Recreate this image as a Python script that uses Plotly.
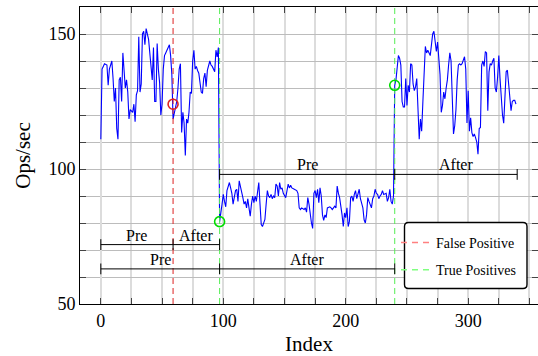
import plotly.graph_objects as go

# ---------------- data ----------------
index = [
    0, 1, 2, 3, 5, 6, 7, 9, 10, 11, 12, 13, 14, 15, 16, 17, 18, 19, 20, 21, 22, 23, 24, 26, 27, 28, 29, 30,
    31, 32, 33, 34, 35, 36, 37, 39, 40, 42, 43, 44, 45, 46, 47, 48, 49, 50, 51, 52, 53, 55, 56, 57, 58, 59,
    60, 62, 63, 64, 65, 66, 67, 68, 69, 70, 71, 72, 73, 74, 75, 76, 77, 78, 79, 80, 82, 83, 84, 85, 86, 87,
    89, 90, 91, 93, 94, 95, 96,
    97, 99, 100, 101, 102, 103, 105, 106, 107, 108, 109, 110, 111, 112, 113, 114, 116, 117, 118, 119, 120,
    121, 122, 123, 124, 125, 126, 127, 128, 129, 130, 131, 132, 133, 134, 135, 136, 137, 138, 139, 140, 141,
    142, 143, 144, 145, 146, 147, 148, 149, 150, 151, 153, 154, 155, 156, 158, 160, 161, 162, 163, 164, 166,
    167, 168, 169, 170, 171, 172, 173, 174, 175, 176, 177, 178, 179, 180, 181, 182, 183, 184, 185, 187, 188,
    189, 190, 191, 192, 193, 194, 195, 197, 198, 199, 200, 201, 202, 203, 204, 205, 206, 207, 208, 209, 210,
    211, 212, 214, 215, 216, 217, 218, 219, 220, 221, 222, 223, 224, 225, 226, 227, 228, 229, 230, 231, 233,
    234, 235, 236, 237, 238, 239,
    240, 241, 242, 243, 244, 245, 246, 247, 248, 249, 250, 251, 252, 253, 254, 255, 256, 257, 258, 259, 260,
    261, 262, 263, 264, 265, 266, 267, 269, 270, 271, 272, 273, 274, 275, 276, 277, 278, 279, 280, 281, 282,
    283, 284, 285, 286, 287, 288, 289, 290, 291, 292, 293, 294, 295, 296, 297, 298, 299, 300, 301, 302, 303,
    304, 305, 306, 307, 308, 309, 310, 311, 312, 313, 314, 315, 316, 317, 318, 319, 320, 321, 322, 323, 324,
    325, 326, 327, 328, 329, 330, 331, 332, 333, 334, 335, 336, 337, 338, 339,
]
ops_per_sec = [
    111, 137, 138, 139, 138.5, 131, 137, 140, 133.5, 125, 130, 115, 111, 133, 134, 125, 143, 137, 130, 133,
    128.5, 118.5, 122, 121, 124, 117.5, 127.5, 129,
    149, 128.5, 131.5, 150, 151, 146, 152, 148, 143.5, 133, 145, 125, 125, 146.5, 137, 132, 120, 124, 137,
    142, 143, 145.5, 146, 142, 135, 118.5,
    121, 125, 130, 137, 139, 113.5, 121, 117, 105, 118.5, 117, 121, 128.5, 128, 140, 144, 137, 138, 136.5,
    135.5, 128.5, 128, 133.5, 135.5, 130.5, 136.5,
    140, 138.5, 138, 136, 144, 141.5, 145,
    80.5, 87, 90.6, 88, 86, 92, 95, 93, 91, 87, 89.4, 92, 92.5, 88, 95.6, 93, 89.4, 87, 88, 85.6, 89,
    85.6, 82.5, 87, 90, 87.5, 90, 88, 92, 95, 87, 79.4, 78.7, 80, 81.3, 87, 92, 90, 89.4, 90.6, 89, 90,
    89.4, 94.4, 93.7, 90, 95, 92.5, 93, 91, 90, 89.4, 94.4, 93, 94, 93, 92.5, 92, 91, 85.6, 85, 85.6, 85,
    85.6, 84, 89.4, 87, 82, 80, 78, 91, 92, 89.4, 92.5, 87.5, 93, 90, 83, 81, 83, 82, 85.6, 86, 85.6,
    85, 85.6, 86.2, 85.6, 93.7, 91, 89.4, 83, 78.7, 83.7, 82, 85.6, 78.7, 80.6, 89.4, 90, 88, 90.6, 92, 89,
    91, 92.5, 89, 85.6, 81.2, 80, 83, 89.4, 88, 87, 85.6, 89, 90, 92.5, 91, 90.6, 89, 90, 90.6, 92, 90.6,
    91, 88, 89.4, 92.5, 88, 87, 90,
    131, 133, 138, 142, 141, 138.5, 125, 123, 123, 133.5, 123.5, 131, 128.5, 139, 138.5, 131.5, 129, 130.4,
    133.5, 121, 111,
    118.5, 114, 125, 138.5, 145.4, 143, 144, 142, 146, 150, 151, 146, 143.5, 147, 140, 135, 121, 123.5,
    128.5, 126, 130,
    133, 138.5, 143, 140, 121, 113, 116, 122, 133, 138.5, 139, 138.5, 139, 140.4, 141.6, 137, 117, 129,
    114, 119, 113.5,
    112, 113, 111.6, 110, 105.5, 115, 115.4, 138.5, 140, 138, 143.5, 143, 121.6, 136, 139, 138.5, 140, 141,
    130, 128.5, 134,
    142, 133.5, 126, 120, 117, 126, 136, 136.6, 132, 126, 121.6, 125, 125.4, 125.4, 124,
]

false_positive_idx = [59]
false_positive_ops = [124]
true_positive_idx = [97, 240]
true_positive_ops = [80.5, 131]

# Pre / After brackets: start, split point, end, level (Ops/sec)
bracket_start = [0, 0, 97]
bracket_split = [59, 97, 240]
bracket_end = [97, 240, 340]
bracket_level = [72, 63, 98]
bracket_left_label = ["Pre", "Pre", "Pre"]
bracket_right_label = ["After", "After", "After"]

x_tick_vals = [0, 100, 200, 300]
x_tick_text = ["0", "100", "200", "300"]
y_tick_vals = [50, 100, 150]
y_tick_text = ["50", "100", "150"]

X_RANGE = [-17, 357]
Y_RANGE = [50, 160]

FONT = "Liberation Serif"
RED = "#dd2222"
GREEN_LINE = "#55ee55"
GREEN_MARK = "#00dd00"

fig = go.Figure()

# main series
fig.add_trace(go.Scatter(x=index, y=ops_per_sec, mode="lines",
                         line=dict(color="#0000ff", width=1.1), showlegend=False))

# vertical change-point lines (drawn over the series)
for xv in false_positive_idx:
    fig.add_trace(go.Scatter(x=[xv, xv], y=Y_RANGE, mode="lines",
                             line=dict(color=RED, width=1, dash="6px,4px"),
                             showlegend=False, hoverinfo="skip"))
for xv in true_positive_idx:
    fig.add_trace(go.Scatter(x=[xv, xv], y=Y_RANGE, mode="lines",
                             line=dict(color=GREEN_LINE, width=1, dash="6px,4px"),
                             showlegend=False, hoverinfo="skip"))

# brackets
TICK_HALF = 2.0
bx, by = [], []
for s, m, e, lv in zip(bracket_start, bracket_split, bracket_end, bracket_level):
    bx += [s, e, None]
    by += [lv, lv, None]
    for p in (s, m, e):
        bx += [p, p, None]
        by += [lv - TICK_HALF, lv + TICK_HALF, None]
fig.add_trace(go.Scatter(x=bx, y=by, mode="lines", line=dict(color="black", width=1),
                         showlegend=False, hoverinfo="skip"))

for s, m, e, lv, l1, l2 in zip(bracket_start, bracket_split, bracket_end, bracket_level,
                               bracket_left_label, bracket_right_label):
    for txt, cx in ((l1, (s + m) / 2), (l2, (m + e) / 2)):
        fig.add_annotation(x=cx, y=lv, text=txt, showarrow=False, xanchor="center",
                           yanchor="bottom", yshift=-1,
                           font=dict(family=FONT, size=16, color="black"))

# detection markers
fig.add_trace(go.Scatter(x=false_positive_idx, y=false_positive_ops, mode="markers",
                         marker=dict(symbol="circle-open", size=10, color=RED,
                                     line=dict(width=1.6, color=RED)),
                         showlegend=False))
fig.add_trace(go.Scatter(x=true_positive_idx, y=true_positive_ops, mode="markers",
                         marker=dict(symbol="circle-open", size=10, color=GREEN_MARK,
                                     line=dict(width=1.6, color=GREEN_MARK)),
                         showlegend=False))

# legend entries
fig.add_trace(go.Scatter(x=[None], y=[None], mode="lines", name="False Positive",
                         legendgroup="fp",
                         line=dict(color="#ff8080", width=1.5, dash="6px,5px")))
fig.add_trace(go.Scatter(x=[None], y=[None], mode="lines", name="True Positives",
                         legendgroup="tp",
                         line=dict(color="#80ff80", width=1.5, dash="6px,5px")))

# rounded legend frame (paper coordinates)
W_PLOT, H_PLOT = 458.0, 297.0
x0, x1 = (404.5 - 80) / W_PLOT, (527 - 80) / W_PLOT
y0, y1 = (304 - 288.5) / H_PLOT, (304 - 222.5) / H_PLOT
rx, ry = 4 / W_PLOT, 4 / H_PLOT
path = (f"M{x0+rx},{y0} L{x1-rx},{y0} Q{x1},{y0} {x1},{y0+ry} L{x1},{y1-ry} "
        f"Q{x1},{y1} {x1-rx},{y1} L{x0+rx},{y1} Q{x0},{y1} {x0},{y1-ry} "
        f"L{x0},{y0+ry} Q{x0},{y0} {x0+rx},{y0} Z")
fig.add_shape(type="path", path=path, xref="paper", yref="paper",
              fillcolor="white", line=dict(color="black", width=1.4), layer="above")

axis_common = dict(showline=True, linecolor="black", linewidth=1, mirror="ticks",
                   ticks="inside", ticklen=6, tickcolor="#444", tickwidth=1,
                   zeroline=False, showgrid=True)

fig.update_xaxes(range=X_RANGE, tickmode="array", tickvals=x_tick_vals, ticktext=x_tick_text,
                 gridcolor="#dcdcdc", gridwidth=1.5,
                 minor=dict(tickmode="linear", tick0=0, dtick=25, ticks="inside", ticklen=6,
                            tickcolor="#444", showgrid=True, gridcolor="#dcdcdc", gridwidth=1.5),
                 title=dict(text="Index", font=dict(family=FONT, size=21), standoff=9),
                 tickfont=dict(family=FONT, size=18, color="black"),
                 **axis_common)
fig.update_yaxes(range=Y_RANGE, tickmode="array", tickvals=y_tick_vals, ticktext=y_tick_text,
                 gridcolor="#bcbcbc", gridwidth=1,
                 minor=dict(tickmode="linear", tick0=50, dtick=10, ticks="inside", ticklen=6,
                            tickcolor="#444", showgrid=True, gridcolor="#bcbcbc", gridwidth=1),
                 title=dict(text="Ops/sec", font=dict(family=FONT, size=21), standoff=12),
                 tickfont=dict(family=FONT, size=18, color="black"),
                 **axis_common)

fig.update_layout(
    width=538, height=356,
    margin=dict(l=80, r=0, t=7, b=52, autoexpand=False),
    plot_bgcolor="white", paper_bgcolor="white",
    font=dict(family=FONT, size=18, color="black"),
    showlegend=True,
    legend=dict(x=(396 - 80) / W_PLOT, y=(304 - 227) / H_PLOT, xanchor="left", yanchor="top",
                bgcolor="rgba(0,0,0,0)", borderwidth=0, tracegroupgap=6,
                font=dict(family=FONT, size=14, color="black")),
)

fig.write_html("out.html", config={"displayModeBar": False},
               post_script="document.body.style.margin='0px';document.body.style.overflow='hidden';")
